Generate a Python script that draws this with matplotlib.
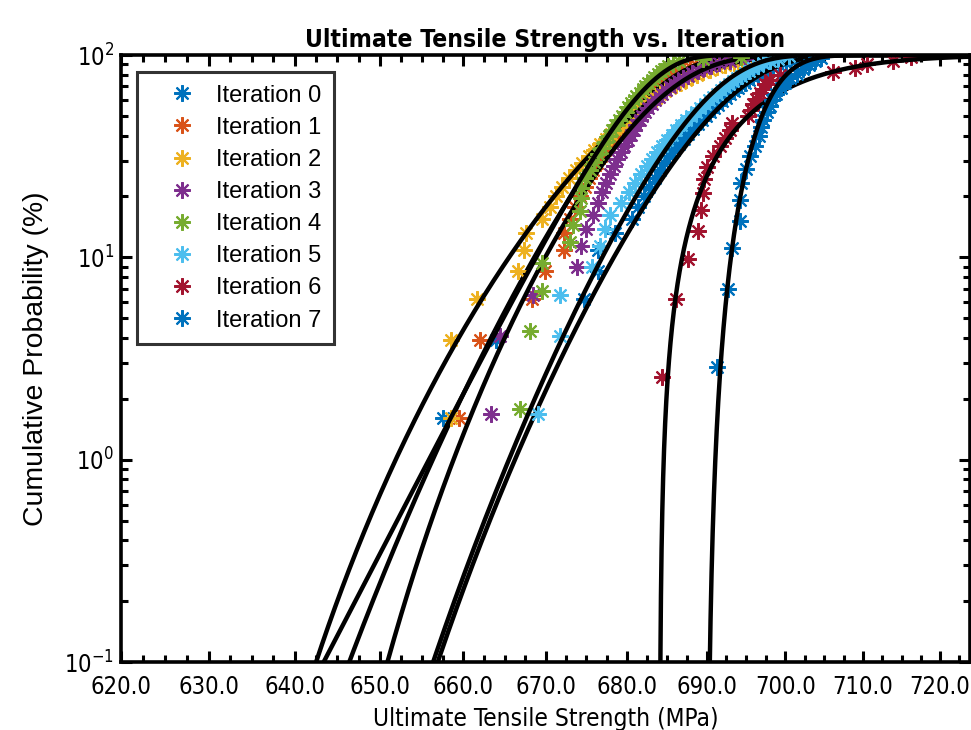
import os
import numpy as np
import matplotlib.pyplot as plt
from matplotlib.ticker import FixedLocator, NullFormatter, FuncFormatter
from matplotlib import font_manager
from matplotlib.font_manager import FontProperties
from matplotlib.textpath import TextToPath

# ultimate tensile strength samples (MPa), one list per iteration
uts_iter0 = [657.5, 663.9, 674.7, 676.5, 676.5, 678.6, 680.6, 681.4, 682.1, 682.8,
             683.5, 684.1, 684.7, 685.3, 685.9, 686.5, 687.1, 687.7, 688.3, 688.9,
             689.4, 689.9, 690.4, 690.9, 691.4, 691.9, 692.4, 692.9, 693.4, 693.9,
             694.4, 694.9, 695.4, 695.9, 696.5, 697.1, 697.7, 698.4, 699.2, 700.1,
             701.2, 702.5, 704.0]
uts_iter1 = [659.5, 662.0, 668.3, 669.9, 672.3, 672.3, 673.0, 673.6, 674.2, 674.8,
             675.3, 675.8, 676.3, 676.8, 677.3, 677.8, 678.2, 678.7, 679.1, 679.5,
             680.0, 680.4, 680.8, 681.2, 681.6, 682.0, 682.4, 682.8, 683.2, 683.6,
             684.0, 684.5, 685.0, 685.5, 686.0, 686.6, 687.2, 687.9, 688.7, 689.6,
             690.6, 691.8, 693.5]
uts_iter2 = [658.5, 658.5, 661.7, 666.6, 667.4, 667.6, 669.5, 670.5, 671.3, 672.0,
             672.9, 673.7, 674.5, 675.3, 676.0, 676.7, 677.4, 678.1, 678.7, 679.4,
             680.0, 680.6, 681.2, 681.8, 682.4, 683.0, 683.6, 684.2, 684.8, 685.4,
             686.1, 686.7, 687.4, 688.1, 688.8, 689.6, 690.4, 691.3, 692.3, 693.4,
             694.0, 694.5, 695.0]
uts_iter3 = [663.3, 664.5, 668.5, 673.8, 674.4, 675.0, 675.8, 676.4, 676.9, 677.4,
             677.9, 678.4, 678.8, 679.3, 679.7, 680.1, 680.5, 680.9, 681.2, 681.6,
             681.9, 682.3, 682.7, 683.1, 683.5, 684.0, 684.4, 684.9, 685.4, 685.9,
             686.4, 687.0, 687.6, 688.2, 688.9, 689.7, 690.5, 691.6, 693.0, 694.8,
             697.5]
uts_iter4 = [666.9, 668.1, 669.6, 669.6, 673.0, 673.3, 674.3, 674.3, 674.2, 674.8,
             675.4, 675.9, 676.4, 676.9, 677.3, 677.8, 678.2, 678.6, 679.0, 679.4,
             679.8, 680.1, 680.5, 680.9, 681.2, 681.6, 682.0, 682.3, 682.7, 683.1,
             683.4, 683.9, 684.3, 684.7, 685.2, 685.8, 686.5, 689.5, 694.3]
uts_iter5 = [669.1, 671.8, 671.8, 675.7, 676.7, 677.3, 677.9, 679.3, 680.3, 681.0,
             681.8, 682.5, 683.2, 683.8, 684.4, 685.0, 685.6, 686.2, 686.8, 687.4,
             688.0, 688.6, 689.2, 689.8, 690.3, 690.8, 691.3, 691.8, 692.3, 692.8,
             693.3, 693.8, 694.3, 694.8, 695.3, 695.9, 696.5, 697.2, 698.0, 699.0,
             700.5]
uts_iter6 = [684.4, 686.2, 687.7, 688.9, 689.3, 689.5, 689.7, 690.0, 690.8, 691.7,
             692.3, 693.0, 693.2, 695.2, 695.6, 695.9, 696.3, 696.8, 697.1, 697.4,
             698.0, 699.3, 706.1, 709.0, 710.5, 713.9, 716.3]
uts_iter7 = [691.3, 692.7, 693.2, 694.2, 694.2, 694.4, 695.0, 695.5, 696.1, 696.6,
             696.9, 697.2, 697.6, 698.0, 698.3, 698.8, 699.4, 699.9, 700.6, 701.5,
             702.3, 703.0, 703.8, 704.5]

iterations = [uts_iter0, uts_iter1, uts_iter2, uts_iter3,
              uts_iter4, uts_iter5, uts_iter6, uts_iter7]
labels = ["Iteration %d" % i for i in range(8)]

# 3-parameter Weibull fits: location, shape, scale
fit_loc = [623.0, 600.0, 620.0, 630.0, 0.0, 616.0, 684.1, 690.0]
fit_shape = [9.5, 11.9, 6.6, 7.2, 120.0, 11.3, 1.37, 2.28]
fit_scale = [70.2, 82.9, 64.05, 54.6, 681.5, 74.4, 14.6, 8.22]

# MATLAB default line colours
colors = ["#0072BD", "#D95319", "#EDB120", "#7E2F8E",
          "#77AC30", "#4DBEEE", "#A2142F", "#0072BD"]

xticks = np.arange(620, 721, 10)


def find_font(names):
    files = {os.path.basename(f.fname).lower(): f.fname
             for f in font_manager.fontManager.ttflist}
    for n in names:
        if n in files:
            return files[n]
    return None


# the axis texts are in a narrow sans font
reg_file = find_font(["liberationsansnarrow-regular.ttf", "notosans-extracondensed.ttf",
                      "notosans-condensed.ttf", "dejavusanscondensed.ttf",
                      "liberationsans-regular.ttf"])
bold_file = find_font(["liberationsansnarrow-bold.ttf", "notosans-extracondensedbold.ttf",
                       "notosans-condensedbold.ttf", "dejavusanscondensed-bold.ttf",
                       "liberationsans-bold.ttf"])


def fitted_size(fname, text, width_px, max_pt, family="Liberation Sans", weight="normal"):
    if fname is None:
        prop = FontProperties(family=family, weight=weight, size=10)
    else:
        prop = FontProperties(fname=fname, size=10)
    w, h, d = TextToPath().get_text_width_height_descent(text, prop, ismath=False)
    size = min(10 * (width_px * 0.72) / w, max_pt)
    prop.set_size(size)
    return prop


tick_fp = fitted_size(reg_file, "630.0", 61, 23)
xlabel_fp = fitted_size(reg_file, "Ultimate Tensile Strength (MPa)", 345, 24)
ylabel_fp = fitted_size(None, "Cumulative Probability (%)", 335, 24)
title_fp = fitted_size(bold_file, "Ultimate Tensile Strength vs. Iteration", 480, 26,
                       weight="bold")


def median_rank(n):
    i = np.arange(1, n + 1)
    return (i - 0.3) / (n + 0.4) * 100


fig = plt.figure(figsize=(9.71, 7.30), dpi=100)
ax = fig.add_axes([121 / 971, 1 - 662 / 730, 849 / 971, 607 / 730])

star = (8, 2, 0)
for k, uts in enumerate(iterations):
    x = np.sort(uts)
    ax.plot(x, median_rank(len(x)), linestyle="none", marker=star,
            markersize=12, markeredgewidth=1.5, color=colors[k], label=labels[k])
    loc, c, scale = fit_loc[k], fit_shape[k], fit_scale[k]
    if loc > 600:
        xx = loc + np.geomspace(1e-5, 730 - loc, 3000)
    else:
        xx = np.linspace(605, 730, 3000)
    F = 1 - np.exp(-((xx - loc) / scale) ** c)
    ax.plot(xx, F * 100, color="black", linewidth=3.2)

ax.set_xscale("log")
ax.set_yscale("log")
ax.set_xlim(620, 724)
ax.set_ylim(0.1, 100)

ax.xaxis.set_major_locator(FixedLocator(xticks))
ax.xaxis.set_minor_locator(FixedLocator(np.arange(620, 725, 2.5)))
ax.xaxis.set_major_formatter(FuncFormatter(lambda v, p: "%.1f" % v))
ax.xaxis.set_minor_formatter(NullFormatter())
ax.yaxis.set_major_formatter(
    FuncFormatter(lambda v, p: r"$\mathdefault{10^{%d}}$" % round(np.log10(v))))

ax.tick_params(which="both", direction="in", top=True, right=True, width=2.2)
ax.tick_params(axis="x", pad=9)
ax.tick_params(axis="y", pad=5)
ax.tick_params(which="major", length=8)
ax.tick_params(which="minor", length=5)
for lbl in ax.get_xticklabels() + ax.get_yticklabels():
    lbl.set_fontproperties(tick_fp)
for s in ax.spines.values():
    s.set_linewidth(2.6)

ax.set_xlabel("Ultimate Tensile Strength (MPa)", fontproperties=xlabel_fp)
ax.xaxis.set_label_coords(0.5, -(707 - 662) / 607)
ax.set_ylabel("Cumulative Probability (%)", fontproperties=ylabel_fp)
ax.yaxis.set_label_coords(-72 / 849, 0.5)
ax.set_title("Ultimate Tensile Strength vs. Iteration", fontproperties=title_fp, pad=6)

leg = ax.legend(loc="upper left", bbox_to_anchor=(16 / 849, 1 - 17 / 607),
                borderaxespad=0, prop={"family": "Liberation Sans", "size": 17},
                frameon=True, fancybox=False, borderpad=0.53, handlelength=2.75,
                handletextpad=0.06, labelspacing=0.43)
leg.get_frame().set_edgecolor("black")
leg.get_frame().set_linewidth(2.2)

fig.savefig("out.png", dpi=100)
